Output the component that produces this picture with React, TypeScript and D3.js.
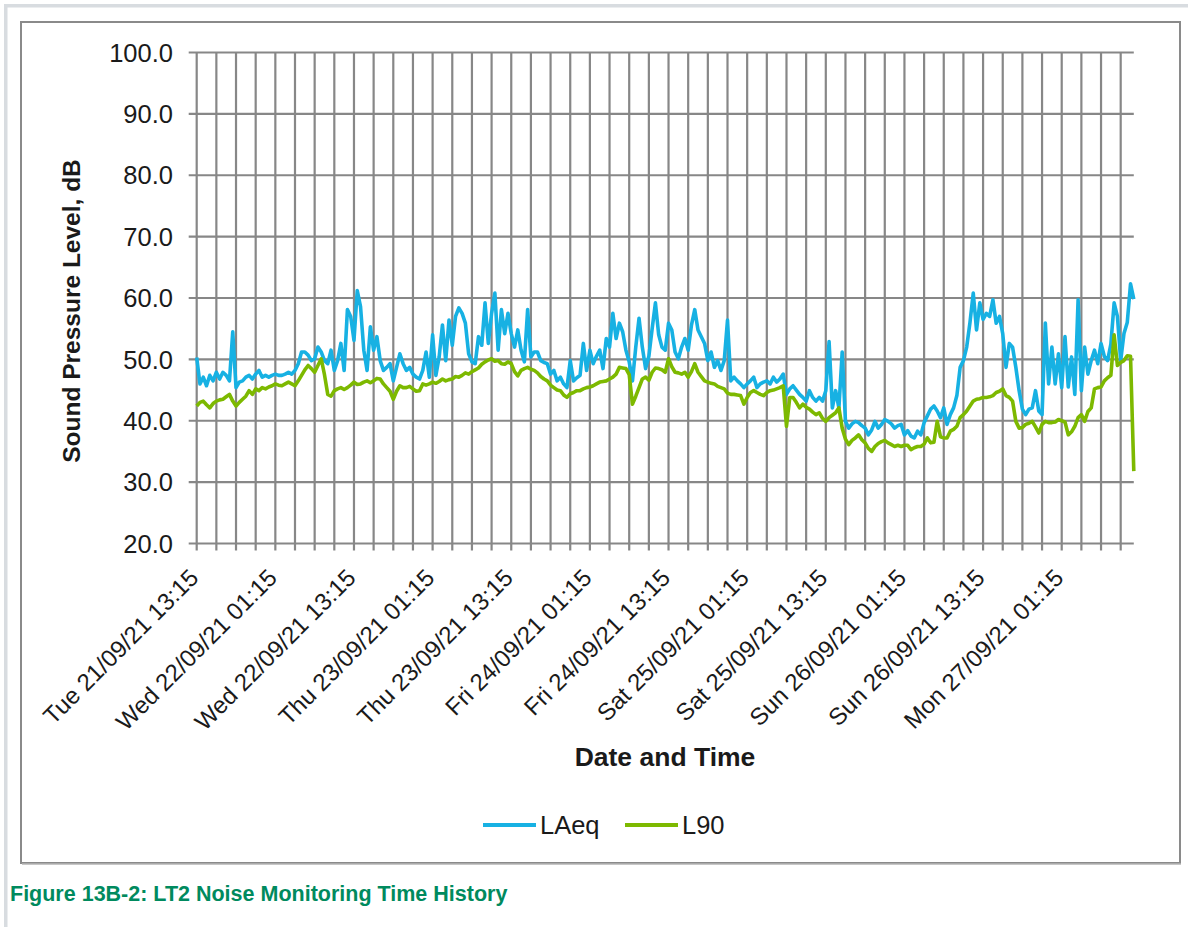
import React from "react";
import * as d3 from "d3";

// ---- Data (30-minute readings from Tue 21/09/21 13:15) ----
const START = new Date(2021, 8, 21, 13, 15);
const STEP_MINUTES = 30;
const SPAN_HOURS = 143;
const GRID_EVERY_HOURS = 3;
const LABEL_EVERY_HOURS = 12;

const laeq: number[] = [
  50.3, 46.0, 47.1, 45.7, 47.4, 46.5, 47.9, 46.8, 47.9, 47.4,
  46.5, 54.5, 45.4, 46.3, 46.5, 47.1, 47.4, 46.8, 47.6, 48.2,
  47.1, 47.4, 47.1, 47.4, 47.6, 47.4, 47.4, 47.6, 47.9, 47.6,
  48.2, 49.3, 51.2, 51.2, 50.7, 49.8, 50.1, 52.0, 51.2, 49.8,
  49.3, 51.5, 48.2, 49.8, 52.6, 48.2, 58.1, 57.0, 53.1, 61.2,
  58.6, 51.5, 48.2, 55.3, 51.5, 53.7, 49.8, 48.2, 48.7, 49.3,
  46.5, 48.7, 50.9, 49.3, 48.2, 48.7, 47.6, 47.1, 46.8, 48.2,
  51.2, 47.1, 54.0, 47.4, 50.4, 55.6, 49.8, 56.4, 52.3, 57.0,
  58.4, 57.5, 55.9, 50.9, 49.6, 49.3, 53.7, 52.3, 59.2, 52.6,
  57.5, 60.8, 51.5, 58.1, 54.2, 57.5, 54.2, 52.0, 54.8, 51.5,
  49.6, 58.1, 50.4, 51.2, 51.2, 49.8, 49.5, 49.3, 47.6, 48.2,
  46.5, 47.1, 46.0, 45.4, 49.8, 46.5, 47.0, 47.4, 52.6, 48.2,
  51.5, 49.3, 50.5, 51.5, 48.5, 53.4, 52.0, 57.5, 53.4, 55.9,
  54.5, 51.5, 49.6, 46.5, 52.0, 56.7, 52.0, 48.5, 50.5, 55.0,
  59.2, 54.0, 52.0, 51.5, 55.9, 54.8, 51.2, 50.1, 52.0, 53.4,
  51.5, 55.6, 58.1, 54.8, 53.7, 52.6, 49.8, 51.2, 48.7, 49.8,
  48.2, 49.8, 56.4, 46.5, 47.1, 46.5, 46.0, 45.4, 46.0, 46.5,
  47.1, 45.4, 46.0, 46.3, 46.5, 46.0, 47.1, 46.3, 46.8, 47.6,
  44.3, 45.2, 45.7, 45.0, 44.3, 43.8, 43.2, 44.9, 43.8, 43.2,
  43.8, 43.2, 44.9, 52.9, 42.1, 44.9, 42.1, 51.2, 39.9, 38.8,
  39.5, 39.9, 39.7, 39.2, 38.8, 37.7, 38.5, 39.9, 38.8, 39.4,
  40.2, 39.9, 39.5, 38.8, 39.2, 39.4, 37.7, 38.4, 37.5, 37.2,
  38.3, 37.7, 39.7, 40.8, 41.9, 42.4, 41.6, 40.5, 42.1, 39.4,
  41.0, 42.1, 44.1, 48.7, 49.8, 52.0, 56.0, 60.8, 54.8, 59.2,
  56.5, 57.5, 57.0, 59.7, 55.9, 57.0, 54.2, 48.7, 52.6, 52.0,
  48.7, 44.9, 41.9, 41.0, 41.9, 42.1, 44.9, 41.6, 41.0, 55.9,
  46.0, 52.0, 46.0, 50.9, 45.4, 53.7, 45.5, 50.4, 44.3, 59.7,
  44.9, 52.0, 47.6, 49.8, 51.5, 49.3, 52.6, 50.5, 49.8, 52.5,
  59.2, 57.0, 49.8, 54.2, 56.0, 62.3, 59.8,
];

const l90: number[] = [
  42.4, 43.0, 43.2, 42.6, 42.1, 42.8, 43.2, 43.4, 43.5, 43.9,
  44.3, 43.2, 42.4, 43.0, 43.5, 44.0, 44.9, 44.3, 45.2, 44.9,
  45.4, 45.2, 45.5, 45.7, 46.0, 45.8, 45.7, 46.0, 46.3, 46.0,
  45.7, 46.5, 47.4, 48.3, 49.0, 48.5, 47.9, 49.0, 50.1, 47.5,
  44.3, 44.0, 44.9, 45.2, 45.4, 45.1, 45.4, 45.8, 46.3, 45.9,
  46.0, 46.3, 46.5, 46.2, 46.5, 46.9, 46.8, 46.0, 45.4, 44.8,
  43.5, 44.8, 45.7, 45.4, 45.4, 45.6, 45.2, 44.8, 44.9, 46.0,
  45.8, 46.0, 46.3, 46.1, 46.4, 46.8, 46.5, 46.7, 46.8, 47.2,
  47.1, 47.4, 47.8, 47.6, 48.0, 48.3, 48.6, 49.2, 49.6, 49.9,
  50.1, 49.7, 49.8, 49.3, 49.2, 49.6, 49.3, 48.0, 47.3, 48.2,
  48.5, 48.7, 48.4, 48.2, 47.8, 47.2, 46.8, 46.5, 45.8, 45.4,
  45.0, 44.9, 44.2, 43.8, 44.4, 44.6, 44.9, 44.9, 45.2, 45.4,
  45.5, 45.7, 46.0, 46.3, 46.4, 46.5, 46.8, 47.1, 47.6, 48.7,
  48.6, 48.5, 47.5, 42.7, 44.0, 45.4, 46.8, 47.1, 46.6, 47.9,
  48.6, 48.5, 48.3, 47.9, 50.1, 48.8, 47.9, 47.8, 47.6, 47.9,
  47.1, 48.0, 49.3, 47.9, 47.2, 46.5, 46.3, 46.1, 46.0, 45.6,
  45.4, 45.2, 44.5, 44.3, 44.3, 44.2, 44.1, 42.7, 43.8, 44.6,
  44.9, 44.6, 44.3, 44.1, 44.6, 44.9, 45.0, 45.2, 45.4, 45.7,
  39.1, 43.8, 43.8, 43.0, 42.1, 42.7, 42.2, 41.9, 41.4, 41.0,
  41.3, 40.4, 39.9, 40.5, 40.9, 41.3, 42.1, 38.8, 37.0, 36.1,
  36.8, 37.2, 37.7, 36.9, 36.4, 35.5, 35.0, 35.8, 36.3, 36.6,
  36.8, 36.4, 36.1, 35.8, 36.0, 35.8, 36.0, 36.0, 35.3, 35.6,
  35.8, 35.8, 36.2, 37.2, 36.4, 36.5, 39.9, 37.4, 37.2, 37.2,
  38.3, 38.6, 39.1, 40.5, 41.0, 41.6, 42.4, 43.2, 43.5, 43.6,
  43.8, 43.8, 43.9, 44.1, 44.6, 44.8, 45.2, 44.1, 43.8, 43.2,
  39.9, 38.8, 38.9, 39.4, 39.6, 39.9, 39.0, 38.0, 39.4, 39.9,
  39.7, 39.7, 39.8, 40.2, 40.0, 39.8, 37.7, 38.2, 39.1, 40.5,
  41.0, 39.9, 41.5, 42.1, 45.2, 45.4, 45.5, 46.5, 47.0, 47.4,
  54.0, 49.0, 49.5, 49.8, 50.6, 50.5, 31.8,
];

const yTicks: number[] = [20, 30, 40, 50, 60, 70, 80, 90, 100];
const xTickLabels: string[] = [
  "Tue 21/09/21 13:15",
  "Wed 22/09/21 01:15",
  "Wed 22/09/21 13:15",
  "Thu 23/09/21 01:15",
  "Thu 23/09/21 13:15",
  "Fri 24/09/21 01:15",
  "Fri 24/09/21 13:15",
  "Sat 25/09/21 01:15",
  "Sat 25/09/21 13:15",
  "Sun 26/09/21 01:15",
  "Sun 26/09/21 13:15",
  "Mon 27/09/21 01:15",
];
const seriesNames: string[] = ["LAeq", "L90"];
const seriesColors: string[] = ["#17b1e3", "#7db900"];

const FONT = "'Liberation Sans', Arial, Helvetica, sans-serif";

export default function App() {
  const W = 1188;
  const H = 927;

  const x = d3
    .scaleTime()
    .domain([START, d3.timeHour.offset(START, SPAN_HOURS)])
    .range([196.7, 1133.8]);
  const y = d3.scaleLinear().domain([20, 100]).range([543.5, 52.5]);

  const tOf = (i: number) => d3.timeMinute.offset(START, i * STEP_MINUTES);
  const line = d3
    .line<number>()
    .x((_, i) => x(tOf(i)))
    .y((d) => y(d));

  const gridTimes: Date[] = [];
  for (let h = 0; h <= SPAN_HOURS - 1; h += GRID_EVERY_HOURS) {
    gridTimes.push(d3.timeHour.offset(START, h));
  }

  const x0 = x.range()[0];
  const x1 = x.range()[1];
  const yBottom = y(20);
  const yTop = y(100);

  return (
    <svg
      width={W}
      height={H}
      viewBox={`0 0 ${W} ${H}`}
      style={{ position: "absolute", left: 0, top: 0, background: "#fff" }}
      fontFamily={FONT}
    >
      <rect x={0} y={0} width={W} height={H} fill="#ffffff" />
      {/* outer light frame */}
      <rect x={4} y={4} width={W - 4} height={3.5} fill="#d8dce0" />
      <rect x={4} y={4} width={3.5} height={H - 4} fill="#d8dce0" />

      {/* chart box */}
      <rect x={21} y={22} width={1159} height={841} fill="#fff" stroke="#8a8a8a" strokeWidth={2} />
      <line x1={22} x2={1181} y1={864} y2={864} stroke="#b5b5b5" strokeWidth={1.5} />

      {/* horizontal gridlines + y ticks */}
      {yTicks.map((v) => (
        <line key={"h" + v} x1={x0 - 8} x2={x1} y1={y(v)} y2={y(v)} stroke="#878787" strokeWidth={2.2} />
      ))}
      {/* vertical gridlines + x ticks */}
      {gridTimes.map((t, k) => (
        <line key={"v" + k} x1={x(t)} x2={x(t)} y1={yTop} y2={yBottom + 7} stroke="#878787" strokeWidth={2.2} />
      ))}

      {/* y tick labels */}
      {yTicks.map((v) => (
        <text key={"yl" + v} x={173} y={y(v)} dy="0.36em" textAnchor="end" fontSize={25.5} fill="#1a1a1a">
          {v.toFixed(1)}
        </text>
      ))}

      {/* x tick labels */}
      {xTickLabels.map((lab, i) => {
        const tx = x(d3.timeHour.offset(START, i * LABEL_EVERY_HOURS)) - 9;
        return (
          <text
            key={"xl" + i}
            transform={`translate(${tx},${567}) rotate(-45)`}
            dy="0.72em"
            textAnchor="end"
            fontSize={24}
            fill="#1a1a1a"
          >
            {lab}
          </text>
        );
      })}

      {/* series */}
      <path d={line(laeq) || ""} fill="none" stroke={seriesColors[0]} strokeWidth={3.6} strokeLinejoin="round" />
      <path d={line(l90) || ""} fill="none" stroke={seriesColors[1]} strokeWidth={3.6} strokeLinejoin="round" />

      {/* axis titles */}
      <text
        transform="translate(80,311) rotate(-90)"
        textAnchor="middle"
        fontSize={24.5}
        fontWeight="bold"
        fill="#1a1a1a"
      >
        Sound Pressure Level, dB
      </text>
      <text x={665} y={756} dy="0.36em" textAnchor="middle" fontSize={26.5} fontWeight="bold" fill="#1a1a1a">
        Date and Time
      </text>

      {/* legend */}
      {seriesNames.map((name, i) => {
        const lx = i === 0 ? 483 : 625;
        return (
          <g key={name}>
            <line x1={lx} x2={lx + 53} y1={825} y2={825} stroke={seriesColors[i]} strokeWidth={4} />
            <text x={lx + 57} y={825} dy="0.36em" fontSize={25.5} fill="#1a1a1a">
              {name}
            </text>
          </g>
        );
      })}

      {/* caption */}
      <text x={10} y={893} dy="0.36em" fontSize={21.5} fontWeight="bold" fill="#008a5e">
        Figure 13B-2: LT2 Noise Monitoring Time History
      </text>
    </svg>
  );
}
